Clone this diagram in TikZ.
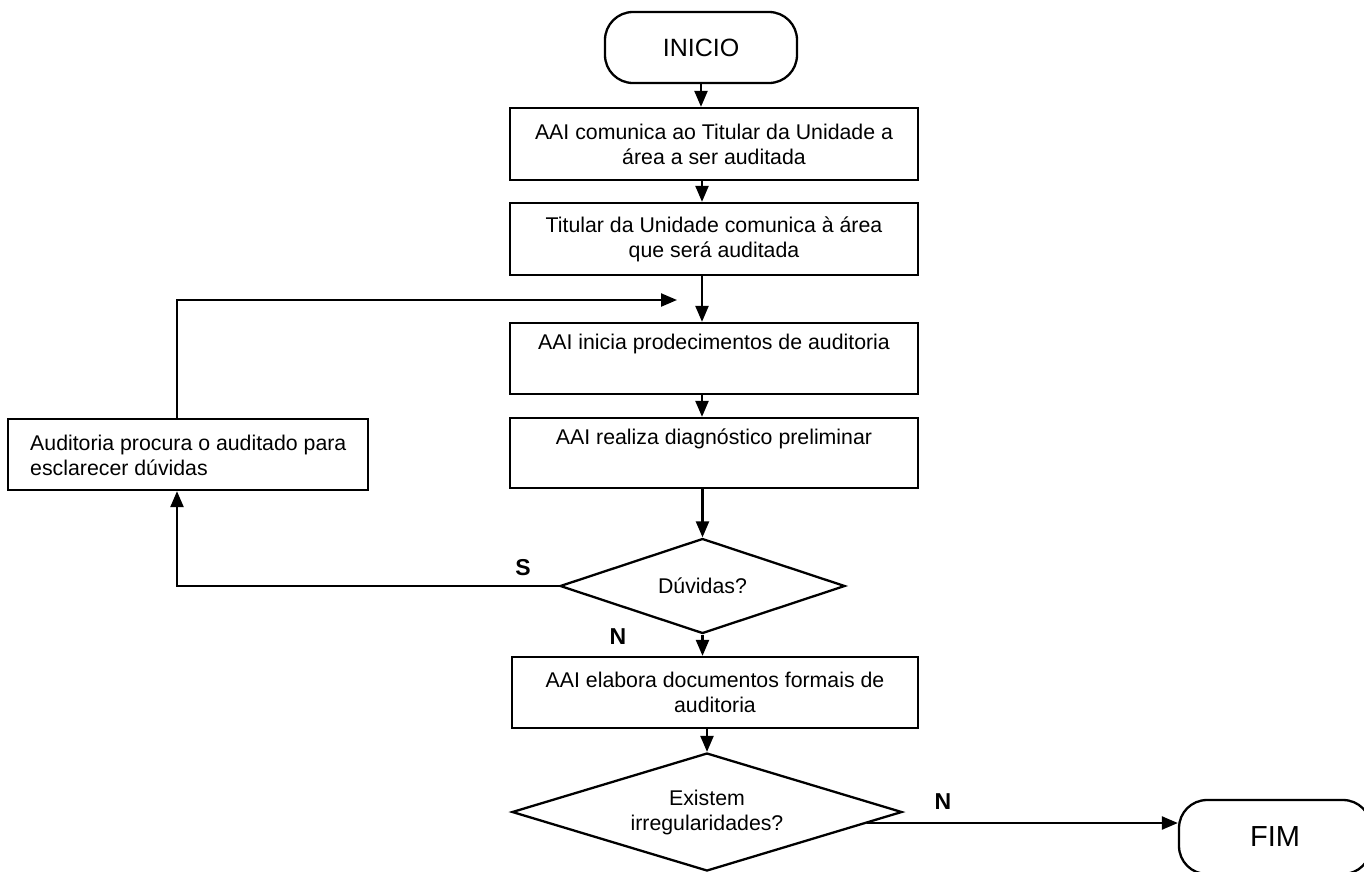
\documentclass[tikz,border=0pt]{standalone}
\usepackage{fontspec}
\setmainfont{Liberation Sans}
\usetikzlibrary{shapes.geometric,arrows.meta}
\begin{document}
\begin{tikzpicture}[x=1pt,y=-1pt,
  base/.style={font=\fontsize{21.3}{25}\selectfont},
  proc/.style={draw, line width=2.3pt, rectangle, minimum width=408pt, minimum height=72pt, align=center, inner sep=0pt, base},
  term/.style={draw, line width=2.3pt, rounded corners=28pt, inner sep=0pt},
  dec/.style={draw, line width=2.3pt, diamond, inner sep=0pt},
  txt/.style={base, align=center, inner sep=0pt},
  arr/.style={line width=2.3pt, -{Triangle[length=16pt,width=13pt]}},
  lbl/.style={font=\fontsize{23}{23}\selectfont\bfseries}
]
\useasboundingbox (0,0) rectangle (1364,871);
\clip (0,0) rectangle (1364,871);
\node[term, minimum width=192pt, minimum height=71pt, font=\fontsize{25}{25}\selectfont] (inicio) at (701,47.5) {INICIO};
\node[proc] (b1) at (714,144) {AAI comunica ao Titular da Unidade a\\área a ser auditada};
\node[proc] (b2) at (714,239) {Titular da Unidade comunica à área\\que será auditada};
\node[proc, minimum height=71pt] (b3) at (714,358.5) {AAI inicia prodecimentos de auditoria\\\strut};
\node[proc, minimum height=70pt] (b4) at (714,453) {AAI realiza diagnóstico preliminar\\\strut};
\node[dec, minimum width=285pt, minimum height=95pt] (d1) at (702.5,586) {};
\node[txt] (d1t) at (d1.center) {Dúvidas?};
\node[proc, minimum width=406pt, minimum height=71pt] (b5) at (715,692.5) {AAI elabora documentos formais de\\auditoria};
\node[dec, minimum width=390pt, minimum height=118pt] (d2) at (707,812) {};
\node[txt] (d2t) at (d2.center) {Existem\\irregularidades?};
\node[draw, line width=2.3pt, minimum width=360pt, minimum height=71pt, inner sep=0pt] (lb) at (188,454.5) {};
\node[base, align=left, inner sep=0pt, anchor=west] (lbt) at (30,455) {Auditoria procura o auditado para\\esclarecer dúvidas};
\node[term, minimum width=192pt, minimum height=74pt, font=\fontsize{29}{29}\selectfont] (fim) at (1275,837) {FIM};
\node[lbl] (s) at (523,568) {S};
\node[lbl] (n1) at (618,637) {N};
\node[lbl] (n2) at (943,802) {N};
\coordinate (ax) at (702,0);
\coordinate (lx) at (177,0);
\coordinate (loopend) at (677,300);
\coordinate (nstart) at (867,823);
\draw[arr] (inicio.south) -- (inicio.south |- b1.north);
\draw[arr] (ax |- b1.south) -- (ax |- b2.north);
\draw[arr] (ax |- b2.south) -- (ax |- b3.north);
\draw[arr] (ax |- b3.south) -- (ax |- b4.north);
\draw[arr] (d1.north |- b4.south) -- (d1.north);
\draw[arr] (d1.south) -- (d1.south |- b5.north);
\draw[arr] (d2.north |- b5.south) -- (d2.north);
\draw[arr] (d1.west) -- (d1.west -| lx) -- (lx |- lb.south);
\draw[arr] (lx |- lb.north) -- (lx |- loopend) -- (loopend);
\draw[arr] (nstart) -- (nstart -| fim.west);
\end{tikzpicture}
\end{document}
